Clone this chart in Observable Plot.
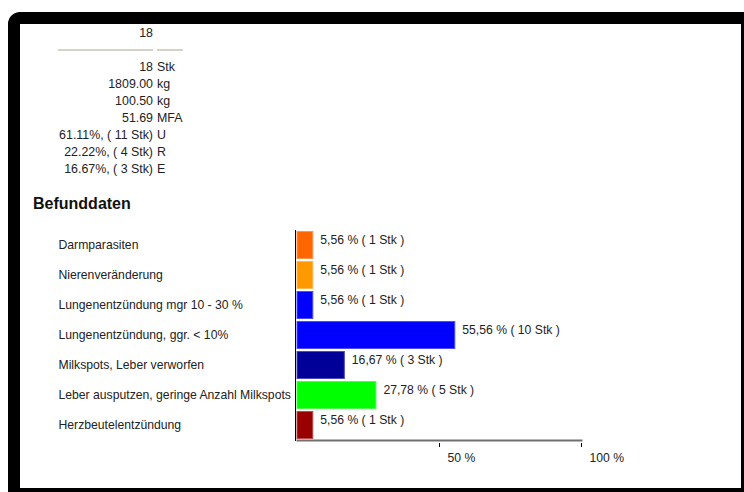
<!DOCTYPE html>
<html>
<head>
<meta charset="utf-8">
<script src="https://cdn.jsdelivr.net/npm/d3@7"></script>
<script src="https://cdn.jsdelivr.net/npm/@observablehq/plot@0.6"></script>
<style>
  html, body { margin: 0; padding: 0; background: #fff; }
  body {
    width: 744px; height: 492px; position: relative; overflow: hidden;
    font-family: "Liberation Sans", Arial, sans-serif; font-size: 12.4px; color: #222;
  }
  #frame {
    position: absolute; left: 8px; top: 12px; width: 721px; height: 464px;
    border-style: solid; border-color: #000; border-width: 12px 3px 4px 12px;
    border-top-left-radius: 12px; background: #fff;
  }
  .row { position: absolute; left: 0; width: 300px; height: 17px; line-height: 17px; white-space: nowrap; }
  .row .val { position: absolute; left: 0; width: 153px; text-align: right; }
  .row .unit { position: absolute; left: 157px; }
  .sep { position: absolute; top: 49px; height: 0; border-top: 2px solid #d6d2c8; }
  h3 {
    position: absolute; left: 33px; top: 194px; margin: 0;
    font: bold 16px/20px "Liberation Sans", Arial, sans-serif; color: #111;
  }
  #chart { position: absolute; left: 20px; top: 220px; }
</style>
</head>
<body>
<div id="frame"></div>
<div id="stats"></div>
<h3>Befunddaten</h3>
<div id="chart"></div>
<script>
// Summary block
const headCount = "18";
const statValues = ["18", "1809.00", "100.50", "51.69", "61.11%, ( 11 Stk)", "22.22%, ( 4 Stk)", "16.67%, ( 3 Stk)"];
const statUnits = ["Stk", "kg", "kg", "MFA", "U", "R", "E"];

// Findings
const categories = [
  "Darmparasiten",
  "Nierenveränderung",
  "Lungenentzündung mgr 10 - 30 %",
  "Lungenentzündung, ggr. < 10%",
  "Milkspots, Leber verworfen",
  "Leber ausputzen, geringe Anzahl Milkspots",
  "Herzbeutelentzündung"
];
const percents = [5.56, 5.56, 5.56, 55.56, 16.67, 27.78, 5.56];
const counts = [1, 1, 1, 10, 3, 5, 1];
const barColors = ["#ff6600", "#ff9900", "#0000ff", "#0000ff", "#000099", "#00ff00", "#990000"];
const xTicks = [50, 100];

// summary rows
const stats = d3.select("#stats");
stats.append("div").attr("class", "row").style("top", "24.6px")
  .append("span").attr("class", "val").text(headCount);
stats.append("div").attr("class", "sep").style("left", "58px").style("width", "95px");
stats.append("div").attr("class", "sep").style("left", "157px").style("width", "26px");
statValues.forEach((v, i) => {
  const r = stats.append("div").attr("class", "row").style("top", (59 + i * 17) + "px");
  r.append("span").attr("class", "val").text(v);
  r.append("span").attr("class", "unit").text(statUnits[i]);
});

// bar chart
const rows = categories.map((name, i) => ({name, pct: percents[i], count: counts[i], color: barColors[i]}));
const fmt = v => v.toFixed(2).replace(".", ",");

const chart = Plot.plot({
  width: 721,
  height: 260,
  marginLeft: 277,
  marginRight: 160,
  marginTop: 10,
  marginBottom: 40,
  style: {background: "none", fontFamily: '"Liberation Sans", Arial, sans-serif', fontSize: "12.2px", color: "#222", overflow: "visible"},
  x: {domain: [0, 100], axis: null},
  y: {domain: categories, paddingInner: 0.067, paddingOuter: 0.033, axis: null},
  color: {type: "identity"},
  marks: [
    Plot.barX(rows, {
      x: "pct", y: "name", fill: "color",
      stroke: d => d3.interpolateRgb(d.color, "#fff")(0.3),
      strokeWidth: 1, insetTop: 0.5, insetBottom: 0.5
    }),
    Plot.frame({anchor: "bottom", stroke: "#707070", strokeWidth: 2}),
    Plot.ruleX([0], {dx: -2, stroke: "#000", insetBottom: -1}),
    Plot.text(rows, {
      x: "pct", y: "name",
      text: d => `${fmt(d.pct)} % ( ${d.count} Stk )`,
      textAnchor: "start", dx: 7, dy: -5, fill: "#222"
    }),
    Plot.text(rows, {y: "name", text: "name", frameAnchor: "left", textAnchor: "start", dx: -239, fill: "#222"}),
    Plot.axisX({ticks: xTicks, tickSize: 4, dy: 3, tickFormat: () => "", label: null, stroke: "#000"}),
    Plot.axisX({ticks: xTicks, tickSize: 0, tickPadding: 0, tickFormat: d => `${d} %`, textAnchor: "start", dx: 8, dy: 13, label: null, fill: "#222"})
  ]
});
document.getElementById("chart").append(chart);
</script>
</body>
</html>
